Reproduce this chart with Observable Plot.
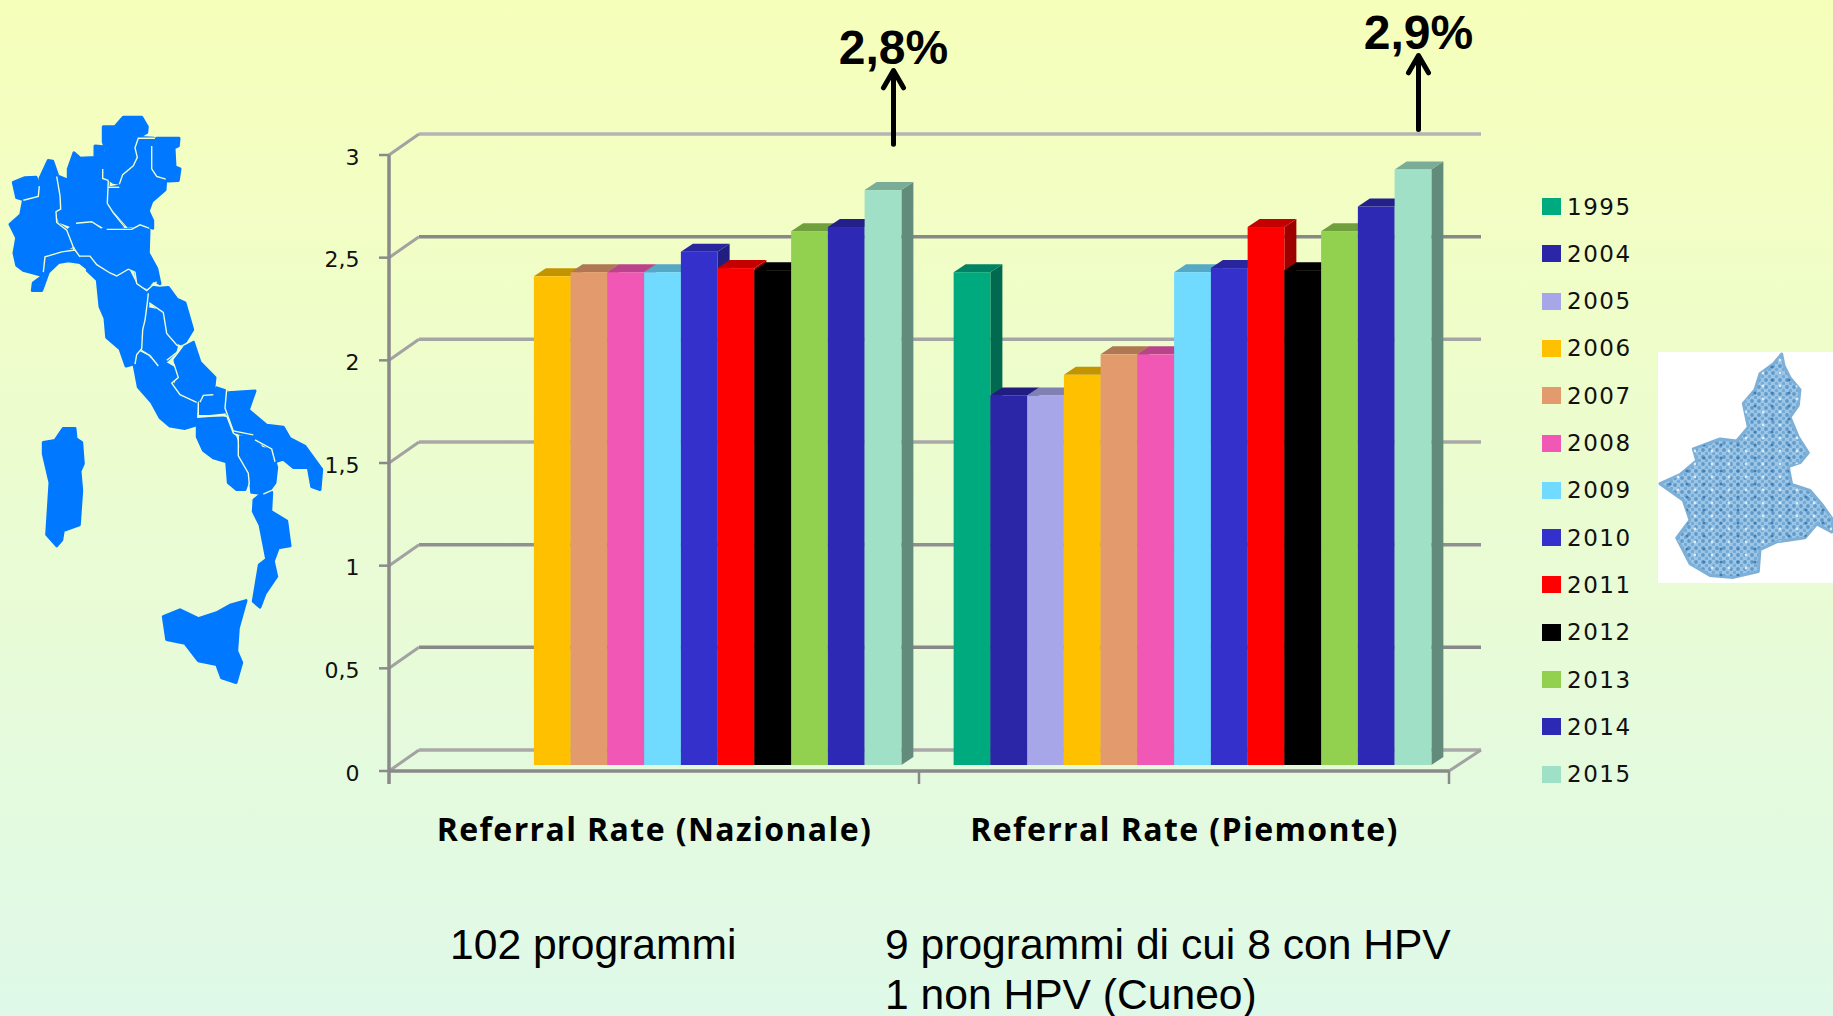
<!DOCTYPE html>
<html>
<head>
<meta charset="utf-8">
<script src="https://cdn.jsdelivr.net/npm/d3@7"></script>
<script src="https://cdn.jsdelivr.net/npm/@observablehq/plot@0.6"></script>
<style>
html,body{margin:0;padding:0;width:1833px;height:1016px;overflow:hidden;background:linear-gradient(180deg,#f6ffba 0%,#dff9e9 100%);}
#stage{position:relative;width:1833px;height:1016px;}
#stage>*{position:absolute;left:0;top:0;}
.note{font-family:"Liberation Sans",Arial,sans-serif;font-size:42.6px;line-height:42px;color:#000;white-space:nowrap;}
.lg{display:flex;align-items:center;height:20px;font:23px "DejaVu Sans",sans-serif;letter-spacing:1.5px;color:#111;}
.lg i{display:block;width:19px;height:17px;margin-right:6px;}
[aria-label="fx-axis tick label"] text{letter-spacing:1.4px;}
</style>
</head>
<body>
<div id="stage"></div>
<script>
const years = ["1995","2004","2005","2006","2007","2008","2009","2010","2011","2012","2013","2014","2015"];
const yearColors = ["#00aa7f","#2b25a8","#a6a6e8","#ffc000","#e39a6c","#f158b5","#70dbff","#3430cc","#ff0000","#000000","#92d050","#2e29b4","#a0e0c6"];
const groups = ["Referral Rate (Nazionale)","Referral Rate (Piemonte)"];
const nazionale = [null,null,null,2.38,2.40,2.40,2.40,2.50,2.42,2.41,2.60,2.62,2.80];
const piemonte = [2.40,1.80,1.80,1.90,2.00,2.00,2.40,2.42,2.62,2.41,2.60,2.72,2.90];
const yTicks = [0,0.5,1,1.5,2,2.5,3];
const gridTones = ["#a9a9a9","#888888","#909090","#a8a8a8","#a5a5a5","#888888","#b4b4b4"];
const peakLabels = ["2,8%","2,9%"];
const peakTails = [3.025,3.098];
const peakTips = [3.385,3.458];
const notes = [["102 programmi",450,926.5],["9 programmi di cui 8 con HPV",885,926.5],["1 non HPV (Cuneo)",885,976.5]];

const rows = [...nazionale.map((v,i)=>({group:groups[0],year:years[i],value:v})),
              ...piemonte.map((v,i)=>({group:groups[1],year:years[i],value:v}))].filter(d=>d.value!=null);
const peaks = peakLabels.map((label,i)=>({group:groups[i],year:"2015",label,tail:peakTails[i],tip:peakTips[i]}));

const NS = "http://www.w3.org/2000/svg";
const shade = (c,k)=>{const r=d3.rgb(c);return d3.rgb(r.r*k,r.g*k,r.b*k).formatHex();};
const DEPTH_X = 12, DEPTH_Y = 8;

// Turn each flat bar into a small box: side and top faces behind the front rect.
function box3d(index, scales, values, dims, context, next){
  const g = next(index, scales, values, dims, context);
  g.querySelectorAll("rect").forEach(r=>{
    const x=+r.getAttribute("x"), y=+r.getAttribute("y"), w=+r.getAttribute("width"), h=+r.getAttribute("height");
    const fill=r.getAttribute("fill");
    const side=context.document.createElementNS(NS,"polygon");
    side.setAttribute("points",`${x+w},${y} ${x+w+DEPTH_X},${y-DEPTH_Y} ${x+w+DEPTH_X},${y+h-DEPTH_Y} ${x+w},${y+h}`);
    side.setAttribute("fill",shade(fill,0.62));
    const top=context.document.createElementNS(NS,"polygon");
    top.setAttribute("points",`${x},${y} ${x+DEPTH_X},${y-DEPTH_Y} ${x+w+DEPTH_X},${y-DEPTH_Y} ${x+w},${y}`);
    top.setAttribute("fill",shade(fill,0.77));
    r.parentNode.insertBefore(side,r);
    r.parentNode.insertBefore(top,r);
  });
  return g;
}

// The open 3D wall: back gridlines, slanted connectors, front axis and ticks.
function wall(index, scales, values, dims, context){
  const g = d3.select(context.document.createElementNS(NS,"g")).attr("fill","none");
  const fx0 = dims.marginLeft-8.5, fx1 = dims.width-dims.marginRight-8.5, fmid=(fx0+fx1)/2;
  const front = v=>scales.y(v)+6, back = v=>scales.y(v)-15, gx0=fx0+30, gx1=fx1+32;
  yTicks.forEach((v,i)=>{
    g.append("path").attr("d",`M${gx0},${back(v)}H${gx1}`).attr("stroke",gridTones[i]).attr("stroke-width",3.5);
    g.append("path").attr("d",`M${fx0},${front(v)}L${gx0},${back(v)}`).attr("stroke","#a2a2a2").attr("stroke-width",3);
    g.append("path").attr("d",`M${fx0-10},${front(v)}H${fx0}`).attr("stroke","#8a8a8a").attr("stroke-width",2.5);
  });
  g.append("path").attr("d",`M${fx1},${front(0)}L${gx1},${back(0)}`).attr("stroke","#a2a2a2").attr("stroke-width",3);
  g.append("path").attr("d",`M${fx0},${front(3)}V${front(0)+13}`).attr("stroke","#8a8a8a").attr("stroke-width",3.5);
  g.append("path").attr("d",`M${fx0},${front(0)}H${fx1}`).attr("stroke","#8a8a8a").attr("stroke-width",3.5);
  [fmid,fx1].forEach(x=>g.append("path").attr("d",`M${x},${front(0)}V${front(0)+13}`).attr("stroke","#8a8a8a").attr("stroke-width",2.5));
  return g.node();
}

const peakMarks = peaks.flatMap((p,i)=>{
  const dx=[10,5][i];
  return [
    Plot.arrow([p],{fx:"group",x1:"year",x2:"year",y1:"tail",y2:"tip",bend:0,stroke:"#000",strokeWidth:5,headLength:6,headAngle:60,dx}),
    Plot.text([p],{fx:"group",x:"year",y:"tip",text:"label",fontSize:48,fontWeight:"bold",fontFamily:"Liberation Sans",fill:"#000",lineAnchor:"bottom",dx,dy:-6.5})
  ];
});

const chart = Plot.plot({
  width:1833,height:1016,marginLeft:397.5,marginRight:375.5,marginTop:149,marginBottom:251,
  style:{background:"transparent"},
  fx:{domain:groups,padding:0,round:false,axis:null},
  x:{domain:years,paddingInner:0,paddingOuter:0.711,round:false,axis:null},
  y:{domain:[0,3]},
  color:{domain:years,range:yearColors},
  marks:[
    Plot.frame({facet:"super",render:wall}),
    Plot.axisY(yTicks,{anchor:"left",tickSize:0,tickPadding:38.5,dy:8,fontSize:22,fontFamily:"DejaVu Sans",fill:"#111",label:null,tickFormat:d=>String(d).replace(".",",")}),
    Plot.axisFx({anchor:"bottom",tickSize:0,tickPadding:53,dx:-8.5,fontSize:32,fontWeight:"bold",fontFamily:"Open Sans",fill:"#000",label:null}),
    Plot.barY(rows,{fx:"group",x:"year",y:"value",fill:"year",render:box3d}),
    ...peakMarks
  ]
});
const stage=document.getElementById("stage");

// Maps (decorative): traced outlines.
const italyRegions = [
 [[40,215],[75,203],[108,202],[118,225],[115,252],[70,260],[50,255]],
 [[120,205],[145,158],[158,160],[172,195],[168,210],[178,250],[182,285],[165,290],[168,320],[200,340],[218,380],[190,395],[140,405],[130,440],[125,458],[70,445],[50,432],[42,400],[50,360],[30,325],[62,300],[70,265],[115,255],[120,225]],
 [[172,198],[205,210],[205,180],[222,138],[240,152],[285,150],[285,120],[310,122],[308,200],[325,210],[322,270],[340,300],[370,330],[320,335],[300,325],[270,315],[225,318],[218,330],[180,318],[168,290],[182,285],[180,250]],
 [[310,70],[345,70],[370,45],[425,45],[442,70],[440,85],[410,100],[405,125],[415,150],[395,180],[370,190],[360,218],[340,215],[325,205],[308,200],[318,130],[310,110]],
 [[420,98],[462,100],[450,125],[450,180],[470,205],[497,210],[495,235],[455,265],[445,290],[458,315],[458,335],[425,325],[385,330],[345,290],[328,270],[328,230],[360,225],[368,195],[400,180],[415,150],[408,115]],
 [[470,100],[537,100],[535,120],[522,125],[525,175],[540,180],[535,210],[505,212],[470,195],[458,175],[458,120]],
 [[225,325],[275,322],[305,338],[395,338],[420,330],[447,340],[445,400],[470,440],[480,480],[460,470],[440,490],[415,480],[405,445],[385,440],[345,460],[310,445],[270,405],[240,405],[220,370],[205,340]],
 [[97,498],[100,478],[128,460],[135,410],[185,397],[220,392],[240,410],[262,410],[262,440],[240,425],[205,420],[175,425],[145,450],[125,498]],
 [[265,410],[285,415],[320,455],[350,465],[385,445],[405,480],[440,500],[445,520],[440,570],[425,590],[422,640],[400,690],[378,695],[360,650],[320,620],[315,570],[300,540],[292,470],[262,445]],
 [[445,545],[470,550],[492,570],[502,620],[530,640],[525,660],[495,685],[478,695],[455,670],[428,650],[430,590],[440,575]],
 [[447,488],[478,492],[505,490],[530,520],[555,530],[578,600],[550,640],[530,632],[508,620],[498,565],[450,525]],
 [[418,660],[440,670],[475,700],[500,690],[520,700],[535,720],[515,735],[530,760],[590,790],[585,850],[555,858],[510,852],[480,830],[455,790],[415,750],[402,690]],
 [[525,680],[555,645],[580,632],[600,685],[645,725],[640,765],[610,770],[592,785],[545,765],[525,750],[535,720]],
 [[600,790],[610,775],[640,770],[650,752],[678,760],[672,815],[600,822]],
 [[592,835],[670,830],[690,835],[720,925],[748,985],[735,1018],[710,1018],[685,1000],[680,945],[640,935],[610,915],[592,880]],
 [[685,765],[765,760],[745,810],[800,850],[850,855],[870,885],[915,905],[965,965],[960,1018],[935,1010],[925,960],[880,960],[850,938],[825,945],[820,915],[765,885],[700,865],[675,805]],
 [[720,880],[765,885],[785,910],[815,915],[830,960],[825,1000],[800,1030],[755,1025],[750,975],[725,940]],
 [[790,1025],[815,1025],[812,1075],[860,1100],[870,1165],[835,1170],[820,1205],[830,1245],[795,1290],[780,1325],[760,1310],[778,1215],[800,1200],[780,1110],[760,1075],[762,1045]],
 [[490,1350],[540,1332],[595,1355],[650,1340],[690,1320],[738,1308],[715,1380],[710,1440],[725,1470],[708,1522],[665,1510],[650,1475],[595,1465],[555,1420],[500,1410]],
 [[130,895],[165,890],[190,858],[225,858],[228,885],[245,895],[250,950],[240,970],[245,1020],[238,1110],[190,1125],[185,1150],[170,1165],[140,1135],[150,1000],[130,925]]
];
const italyBorders = [
 [[118,225],[115,252],[70,262]],
 [[170,200],[180,250],[182,285],[168,292],[170,320],[200,340],[218,380],[222,392]],
 [[130,450],[135,410],[185,397],[225,392],[240,410]],
 [[308,180],[308,205],[325,210]],
 [[325,210],[322,270],[340,295],[375,333]],
 [[228,322],[275,318],[305,335]],
 [[320,338],[395,338],[420,326],[447,335]],
 [[358,220],[368,195],[400,172],[412,150],[405,125],[415,100],[465,100]],
 [[455,120],[455,180],[470,200],[497,207]],
 [[325,228],[358,228]],
 [[240,408],[270,408],[290,430],[330,452],[350,460],[385,442],[405,450],[410,480],[440,498],[470,475]],
 [[445,505],[442,530],[435,575],[428,600],[425,650],[410,665],[405,690]],
 [[448,530],[490,555],[500,610],[530,640],[540,645]],
 [[425,655],[450,668],[475,695]],
 [[500,680],[530,660],[540,645],[585,625]],
 [[522,690],[535,725],[515,740],[540,770],[590,790]],
 [[600,790],[610,772],[640,770]],
 [[595,790],[595,825],[680,825]],
 [[680,755],[675,805],[700,865],[760,875]],
 [[680,825],[700,870],[715,880],[715,930],[745,975],[748,1005]],
 [[765,888],[815,912],[825,945]],
 [[790,1030],[815,1020]]
];
const piemonteOutline = [[785,440],[792,470],[810,500],[840,530],[835,570],[810,600],[835,650],[865,690],[840,715],[805,725],[815,770],[870,785],[905,820],[939,860],[935,890],[890,870],[855,905],[770,915],[720,935],[715,990],[640,1005],[570,1000],[510,970],[470,905],[510,860],[490,810],[420,768],[480,745],[530,710],[520,680],[600,655],[650,660],[685,625],[670,565],[705,530],[720,490],[760,465]];
const itPt = ([x,y])=>`${(x/3).toFixed(1)},${(100+y/2.613).toFixed(1)}`;
const piePts = piemonteOutline.map(([x,y])=>`${(1520+x/3).toFixed(1)},${(180+y/2.529).toFixed(1)}`).join(" ");
const maps=document.createElementNS(NS,"svg");
maps.setAttribute("width",1833);maps.setAttribute("height",1016);
maps.innerHTML=`<defs><pattern id="cells" width="7" height="7" patternUnits="userSpaceOnUse">
<rect width="7" height="7" fill="#9cc5e6"/><circle cx="2" cy="2" r="1.9" fill="#5f9acb"/><circle cx="5.5" cy="5.5" r="1.7" fill="#74abd6"/></pattern>
<pattern id="cells2" width="17" height="13" patternUnits="userSpaceOnUse">
<circle cx="4" cy="3" r="1.6" fill="#3f7db3"/><circle cx="12" cy="9" r="1.4" fill="#dcecf7"/></pattern></defs>
${italyRegions.map(p=>`<polygon points="${p.map(itPt).join(" ")}" fill="#0078ff" stroke="#0078ff" stroke-width="3" stroke-linejoin="round"/>`).join("")}
${italyBorders.map(p=>`<polyline points="${p.map(itPt).join(" ")}" fill="none" stroke="#eefccb" stroke-width="1.4"/>`).join("")}
<rect x="1658" y="352" width="175" height="231" fill="#fff"/>
<polygon points="${piePts}" fill="url(#cells)" stroke="#7db0d8" stroke-width="3" stroke-linejoin="round"/>
<polygon points="${piePts}" fill="url(#cells2)"/>`;
stage.append(maps);
stage.append(chart);

// Legend
yearColors.forEach((c,i)=>{
  const row=document.createElement("div");
  row.className="lg";
  row.style.cssText=`left:1542px;top:${196.5+i*47.3}px`;
  row.innerHTML=`<i style="background:${c}"></i><span>${years[i]}</span>`;
  stage.append(row);
});
// Notes under the chart
notes.forEach(([t,x,y])=>{
  const d=document.createElement("div");
  d.className="note";d.textContent=t;
  d.style.cssText=`left:${x}px;top:${y-4}px`;
  stage.append(d);
});
</script>
</body>
</html>
